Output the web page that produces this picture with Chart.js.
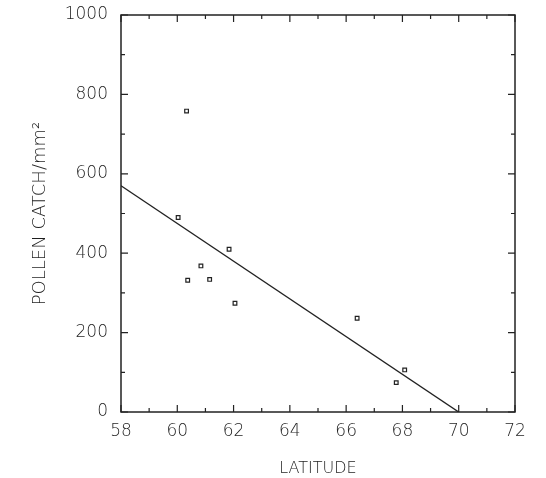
<!DOCTYPE html>
<html>
<head>
<meta charset="utf-8">
<script src="https://cdn.jsdelivr.net/npm/chart.js@4"></script>
<style>
  html, body { margin: 0; padding: 0; background: #fff; }
  #wrap { width: 546px; height: 478px; }
</style>
</head>
<body>
<div id="wrap"><canvas id="c" width="546" height="478"></canvas></div>
<script>
// Site observations: latitude (degrees N) and pollen catch per mm²
const latitude    = [60.33, 60.03, 61.84, 60.84, 60.37, 61.15, 62.05, 66.39, 68.08, 67.78];
const pollenCatch = [758, 490, 410, 368, 332, 334, 274, 236, 106, 74];

// Fitted regression line end points
const fitLatitude = [58, 70];
const fitCatch    = [570, 0];

// Axis ranges and tick spacing
const xTickLabels = [58, 60, 62, 64, 66, 68, 70, 72];
const yTickLabels = [0, 200, 400, 600, 800, 1000];
const xMinorStep = 1;
const yMinorStep = 100;

const ink = '#222';
const textInk = '#1e1e1e';
const fontFamily = '"DejaVu Sans", "Liberation Sans", sans-serif';

// Frame with inward-pointing major and minor tick marks on all four sides
const framePlugin = {
  id: 'frame',
  afterDatasetsDraw(chart) {
    const { ctx, chartArea: a, scales: { x, y } } = chart;
    ctx.save();
    ctx.strokeStyle = ink;
    ctx.lineWidth = 1.5;
    ctx.strokeRect(a.left, a.top, a.right - a.left, a.bottom - a.top);
    ctx.lineWidth = 1.2;
    const xMin = xTickLabels[0], xMax = xTickLabels[xTickLabels.length - 1];
    for (let v = xMin; v <= xMax + 1e-9; v += xMinorStep) {
      const px = x.getPixelForValue(v);
      const len = xTickLabels.includes(v) ? 7 : 4;
      ctx.beginPath();
      ctx.moveTo(px, a.bottom); ctx.lineTo(px, a.bottom - len);
      ctx.moveTo(px, a.top);    ctx.lineTo(px, a.top + len);
      ctx.stroke();
    }
    const yMin = yTickLabels[0], yMax = yTickLabels[yTickLabels.length - 1];
    for (let v = yMin; v <= yMax + 1e-9; v += yMinorStep) {
      const py = y.getPixelForValue(v);
      const len = yTickLabels.includes(v) ? 7 : 4;
      ctx.beginPath();
      ctx.moveTo(a.left, py);  ctx.lineTo(a.left + len, py);
      ctx.moveTo(a.right, py); ctx.lineTo(a.right - len, py);
      ctx.stroke();
    }
    ctx.restore();
  }
};

new Chart(document.getElementById('c'), {
  type: 'scatter',
  data: {
    datasets: [
      {
        label: 'Sites',
        data: latitude.map((lat, i) => ({ x: lat, y: pollenCatch[i] })),
        pointStyle: 'rect',
        pointRadius: 2.6,
        borderColor: ink,
        borderWidth: 1.2,
        backgroundColor: '#fff'
      },
      {
        type: 'line',
        label: 'Fit',
        data: fitLatitude.map((lat, i) => ({ x: lat, y: fitCatch[i] })),
        borderColor: ink,
        borderWidth: 1.4,
        pointRadius: 0,
        fill: false
      }
    ]
  },
  options: {
    responsive: false,
    animation: false,
    devicePixelRatio: 1,
    layout: { padding: { top: 15, right: 31, bottom: 0, left: 0 } },
    plugins: { legend: { display: false }, tooltip: { enabled: false } },
    scales: {
      x: {
        type: 'linear',
        min: xTickLabels[0],
        max: xTickLabels[xTickLabels.length - 1],
        grid: { display: false, drawTicks: false },
        border: { display: false },
        ticks: {
          stepSize: 2, padding: 9, color: textInk,
          font: { family: fontFamily, size: 17, weight: '200' },
          callback: v => String(v)
        },
        title: {
          display: true, text: 'LATITUDE', color: textInk,
          font: { family: fontFamily, size: 16, weight: '200' },
          padding: { top: 12, bottom: 0 }
        },
        afterFit(s) { s.height = 66; s.paddingLeft = 0; s.paddingRight = 0; }
      },
      y: {
        type: 'linear',
        min: yTickLabels[0],
        max: yTickLabels[yTickLabels.length - 1],
        grid: { display: false, drawTicks: false },
        border: { display: false },
        ticks: {
          stepSize: 200, padding: 13, color: textInk,
          font: { family: fontFamily, size: 17, weight: '200' },
          callback: v => String(v)
        },
        title: {
          display: true, text: 'POLLEN CATCH/mm²', color: textInk,
          font: { family: fontFamily, size: 18, weight: '200' },
          padding: { top: 30, bottom: 0 }
        },
        afterFit(s) { s.width = 121; s.paddingTop = 0; s.paddingBottom = 0; }
      }
    }
  },
  plugins: [framePlugin]
});
</script>
</body>
</html>
